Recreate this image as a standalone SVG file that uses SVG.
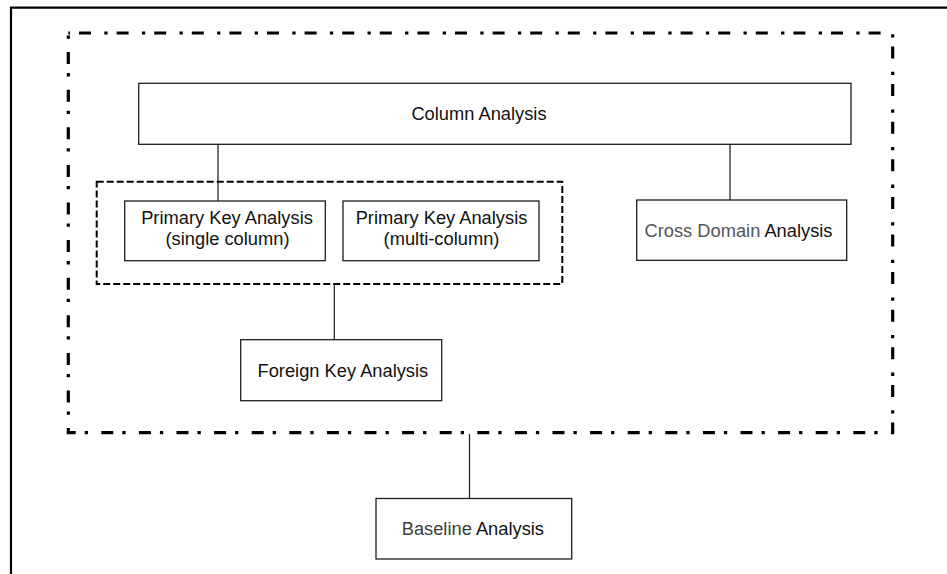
<svg xmlns="http://www.w3.org/2000/svg" width="947" height="574" viewBox="0 0 947 574">
  <style>
    .box { fill: #ffffff; stroke: #1e1e1e; stroke-width: 1.3; }
    .lbl { font-family: "Liberation Sans", Arial, sans-serif; font-size: 18.3px; fill: #111111; }
    .mid { text-anchor: middle; }
    .grey1 { fill: #555555; }
    .grey2 { fill: #3c3c3c; }
    .conn { stroke: #151515; stroke-width: 1.2; fill: none; }
    .frame { stroke: #000000; stroke-width: 2.2; fill: none; }
    .dashdot { stroke: #000000; stroke-width: 3.2; fill: none; stroke-dasharray: 3.3 9 12 13.3; stroke-dashoffset: 1.6; }
    .dashed { stroke: #000000; stroke-width: 2; fill: none; stroke-dasharray: 7 3; }
  </style>
  <rect width="947" height="574" fill="#ffffff"/>

  <g id="frame">
    <path class="frame" d="M11,574 V7.7 H947"/>
  </g>

  <g id="group-outer">
    <rect class="dashdot" x="68.3" y="33" width="824.4" height="399.7"/>
  </g>

  <g id="group-primary-keys">
    <rect class="dashed" x="96.7" y="181.7" width="465.6" height="102.3"/>
  </g>

  <g id="connectors">
    <line class="conn" x1="218" y1="144.3" x2="218" y2="201"/>
    <line class="conn" x1="730" y1="144.3" x2="730" y2="200"/>
    <line class="conn" x1="334.3" y1="285" x2="334.3" y2="340"/>
    <line class="conn" x1="469.5" y1="434" x2="469.5" y2="498.5"/>
  </g>

  <g id="column-analysis">
    <rect class="box" x="138.7" y="83.3" width="712.3" height="61"/>
    <text class="lbl mid" x="479" y="119.5">Column Analysis</text>
  </g>

  <g id="pk-single">
    <rect class="box" x="124.7" y="201" width="200.6" height="59.7"/>
    <text class="lbl mid" x="227" y="224">Primary Key Analysis</text>
    <text class="lbl mid" x="227.5" y="244.5">(single column)</text>
  </g>

  <g id="pk-multi">
    <rect class="box" x="343" y="201" width="196" height="59.7"/>
    <text class="lbl mid" x="441.5" y="224">Primary Key Analysis</text>
    <text class="lbl mid" x="441.5" y="244.5">(multi-column)</text>
  </g>

  <g id="cross-domain">
    <rect class="box" x="636.7" y="200" width="210" height="60.3"/>
    <text class="lbl mid" x="738.5" y="237"><tspan class="grey1">Cross Domain</tspan> Analysis</text>
  </g>

  <g id="foreign-key">
    <rect class="box" x="240.7" y="339.7" width="201" height="61"/>
    <text class="lbl" x="257.5" y="376.5">Foreign Key Analysis</text>
  </g>

  <g id="baseline">
    <rect class="box" x="376" y="498.5" width="195.7" height="60.5"/>
    <text class="lbl" x="401.7" y="535"><tspan class="grey2">Baseline</tspan> Analysis</text>
  </g>
</svg>
